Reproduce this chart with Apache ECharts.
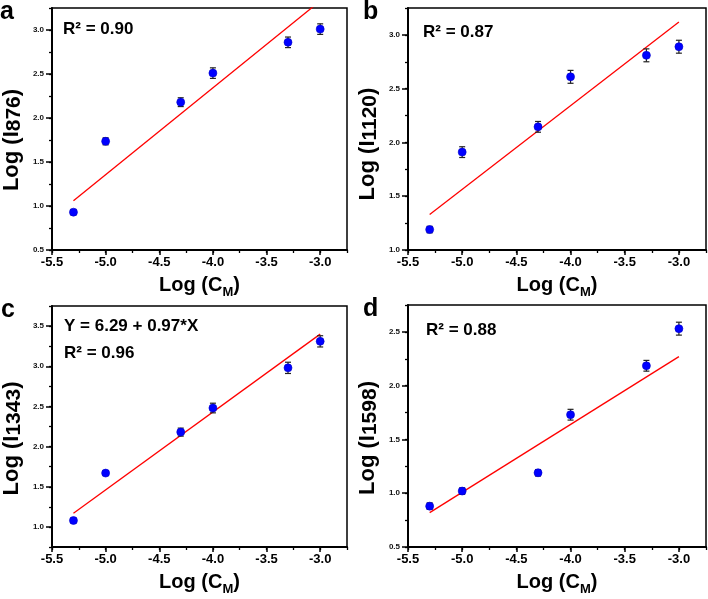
<!DOCTYPE html>
<html>
<head>
<meta charset="utf-8">
<script src="https://cdn.jsdelivr.net/npm/echarts@6/dist/echarts.min.js"></script>
<style>
html,body{margin:0;padding:0;background:#fff;}
#chart{width:708px;height:599px;}
</style>
</head>
<body>
<div id="chart"></div>
<script>
// ---- data ----
var xVals = [-5.3, -5.0, -4.3, -4.0, -3.3, -3.0];

var yA = [0.93, 1.735, 2.18, 2.51, 2.86, 3.01];
var errA = [0.03, 0.04, 0.05, 0.06, 0.06, 0.06];
var fitA = [[-5.3, 1.06], [-3.0, 3.33]];

var yB = [1.19, 1.91, 2.145, 2.61, 2.81, 2.89];
var errB = [0.03, 0.05, 0.05, 0.06, 0.06, 0.06];
var fitB = [[-5.3, 1.33], [-3.0, 3.12]];

var yC = [1.08, 1.67, 2.18, 2.48, 2.98, 3.31];
var errC = [0.03, 0.03, 0.05, 0.06, 0.07, 0.07];
var fitC = [[-5.3, 1.17], [-3.0, 3.40]];

var yD = [0.88, 1.02, 1.19, 1.73, 2.185, 2.53];
var errD = [0.03, 0.03, 0.03, 0.05, 0.05, 0.06];
var fitD = [[-5.3, 0.82], [-3.0, 2.27]];

var xTicks = [-5.5, -5.0, -4.5, -4.0, -3.5, -3.0];
var yTicksA = [0.5, 1.0, 1.5, 2.0, 2.5, 3.0];
var yTicksB = [1.0, 1.5, 2.0, 2.5, 3.0];
var yTicksC = [1.0, 1.5, 2.0, 2.5, 3.0, 3.5];
var yTicksD = [0.5, 1.0, 1.5, 2.0, 2.5];

var panelLetters = ['a', 'b', 'c', 'd'];
var yNames = ['876', '1120', '1343', '1598'];
var annotations = [['R\u00b2 = 0.90'], ['R\u00b2 = 0.87'], ['Y = 6.29 + 0.97*X', 'R\u00b2 = 0.96'], ['R\u00b2 = 0.88']];

// ---- layout ----
var FONT = '"Liberation Sans", Arial, sans-serif';
var panels = [
  {ys: yA, errs: errA, fit: fitA, yMin: 0.5, yMax: 3.25, yTicks: yTicksA, grid: {left: 49, top: 8, width: 298, height: 242}},
  {ys: yB, errs: errB, fit: fitB, yMin: 1.0, yMax: 3.25, yTicks: yTicksB, grid: {left: 408, top: 8, width: 298, height: 242}},
  {ys: yC, errs: errC, fit: fitC, yMin: 0.75, yMax: 3.75, yTicks: yTicksC, grid: {left: 49, top: 306, width: 298, height: 241}},
  {ys: yD, errs: errD, fit: fitD, yMin: 0.5, yMax: 2.75, yTicks: yTicksD, grid: {left: 408, top: 305, width: 298, height: 242}}
];
var letterPos = [[0, 0], [363, 0], [1, 298], [363, 297]];
var annPos = [[63, 21], [423, 24], [64, 318], [426, 322]];
var yNameShift = [22, 30, 24, 24];

var grids = [], xAxes = [], yAxes = [], series = [], graphics = [];
var black = '#000';

panels.forEach(function (p, i) {
  grids.push(Object.assign({show: true, borderColor: black, borderWidth: 1.5, backgroundColor: 'transparent', containLabel: false}, p.grid));
  // minor axes (all 0.25 ticks)
  xAxes.push({
    type: 'value', gridIndex: i, position: 'bottom', min: -5.5, max: -2.75, interval: 0.25,
    axisLine: {show: true, onZero: false, lineStyle: {color: black, width: 2}},
    axisTick: {show: true, inside: false, length: 3, lineStyle: {color: black, width: 1.3}},
    axisLabel: {show: false}, splitLine: {show: false}
  });
  // major axes with labels
  xAxes.push({
    type: 'value', gridIndex: i, position: 'bottom', min: -5.5, max: -2.75,
    axisLine: {show: false, onZero: false},
    axisTick: {show: true, inside: false, length: 5, customValues: xTicks, lineStyle: {color: black, width: 1.5}},
    axisLabel: {show: true, customValues: xTicks, margin: 6, color: black, fontFamily: FONT, fontWeight: 'bold', fontSize: 13,
      formatter: function (v) { return v.toFixed(1); }},
    splitLine: {show: false},
    name: '{n|Log (C}{s|M}{n|)}', nameLocation: 'middle', nameGap: 25,
    nameTextStyle: {rich: {
      n: {fontFamily: FONT, fontWeight: 'bold', fontSize: 20, color: black, verticalAlign: 'bottom', padding: [0, 0, 4, 0]},
      s: {fontFamily: FONT, fontWeight: 'bold', fontSize: 13, color: black, verticalAlign: 'bottom'}
    }}
  });
  yAxes.push({
    type: 'value', gridIndex: i, position: 'left', min: p.yMin, max: p.yMax, interval: 0.25,
    axisLine: {show: true, onZero: false, lineStyle: {color: black, width: 2}},
    axisTick: {show: true, inside: false, length: 3, lineStyle: {color: black, width: 1.3}},
    axisLabel: {show: false}, splitLine: {show: false}
  });
  yAxes.push({
    type: 'value', gridIndex: i, position: 'left', min: p.yMin, max: p.yMax,
    axisLine: {show: false, onZero: false},
    axisTick: {show: true, inside: false, length: 6, customValues: p.yTicks, lineStyle: {color: black, width: 1.5}},
    axisLabel: {show: true, customValues: p.yTicks, margin: 8, color: '#111', fontFamily: FONT, fontWeight: 'bold', fontSize: 8,
      formatter: function (v) { return v.toFixed(1); }},
    splitLine: {show: false},
    name: '{n|Log (I}{s|' + yNames[i] + '}{n|)}', nameLocation: 'middle', nameGap: 27,
    nameTextStyle: {padding: [0, yNameShift[i], 0, 0], rich: {
      n: {fontFamily: FONT, fontWeight: 'bold', fontSize: 22, color: black, verticalAlign: 'bottom', padding: [0, 0, 2, 0]},
      s: {fontFamily: FONT, fontWeight: 'bold', fontSize: 21, color: black, verticalAlign: 'bottom'}
    }}
  });

  var xi = 2 * i, yi = 2 * i;
  series.push({
    type: 'line', xAxisIndex: xi, yAxisIndex: yi, data: p.fit, showSymbol: false, symbol: 'none',
    lineStyle: {color: '#ff0000', width: 1.3}, clip: true, z: 2, silent: true
  });
  series.push({
    type: 'custom', xAxisIndex: xi, yAxisIndex: yi, z: 3, silent: true,
    data: xVals.map(function (x, j) { return [x, p.ys[j], p.errs[j]]; }),
    encode: {x: 0, y: 1},
    renderItem: function (params, api) {
      var x = api.value(0), y = api.value(1), e = api.value(2);
      var hi = api.coord([x, y + e]), lo = api.coord([x, y - e]);
      var cap = 3;
      var st = {stroke: '#222', lineWidth: 1.2};
      return {type: 'group', children: [
        {type: 'line', shape: {x1: hi[0], y1: hi[1], x2: lo[0], y2: lo[1]}, style: st},
        {type: 'line', shape: {x1: hi[0] - cap, y1: hi[1], x2: hi[0] + cap, y2: hi[1]}, style: st},
        {type: 'line', shape: {x1: lo[0] - cap, y1: lo[1], x2: lo[0] + cap, y2: lo[1]}, style: st}
      ]};
    }
  });
  series.push({
    type: 'scatter', xAxisIndex: xi, yAxisIndex: yi, z: 4, silent: true,
    data: xVals.map(function (x, j) { return [x, p.ys[j]]; }),
    symbol: 'circle', symbolSize: 8,
    itemStyle: {color: '#0000ff', borderColor: '#0000c8', borderWidth: 0.6, opacity: 1}
  });

  graphics.push({type: 'text', left: letterPos[i][0], top: letterPos[i][1], silent: true,
    style: {text: panelLetters[i], fill: black, font: 'bold 25px ' + FONT}});
  annotations[i].forEach(function (t, k) {
    graphics.push({type: 'text', left: annPos[i][0], top: annPos[i][1] + k * 27, silent: true,
      style: {text: t, fill: black, font: 'bold 17px ' + FONT}});
  });
});

var chart = echarts.init(document.getElementById('chart'), null, {renderer: 'canvas'});
chart.setOption({
  animation: false,
  backgroundColor: '#ffffff',
  grid: grids,
  xAxis: xAxes,
  yAxis: yAxes,
  series: series,
  graphic: graphics
});
</script>
</body>
</html>
